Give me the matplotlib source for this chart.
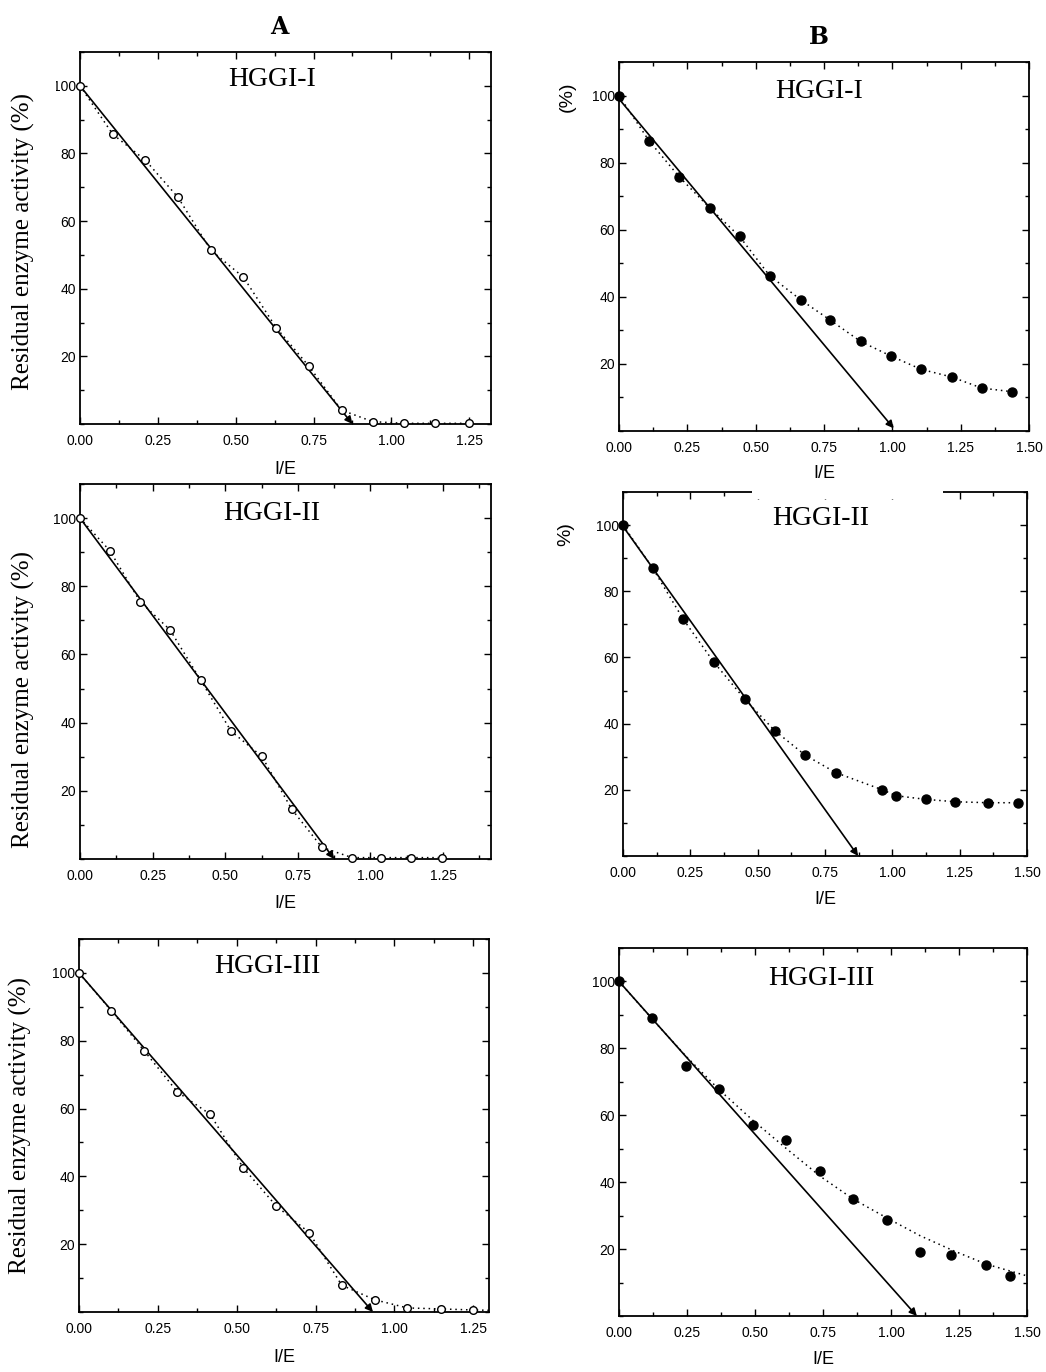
import matplotlib
matplotlib.use("Agg")
import matplotlib.pyplot as plt
from matplotlib.ticker import MultipleLocator, FormatStrFormatter, FixedLocator
from matplotlib.patches import Rectangle

# ---- data ----
# column A (open circles)
a1_x = [0, 0.105, 0.21, 0.315, 0.42, 0.525, 0.63, 0.735, 0.84, 0.94, 1.04, 1.14, 1.25]
a1_y = [100, 85.7, 78.0, 67.0, 51.4, 43.4, 28.5, 17.1, 4.1, 0.7, 0.2, 0.2, 0.2]
a1_line = ([0, 0.875], [100, 0])

a2_x = [0, 0.103, 0.207, 0.31, 0.416, 0.52, 0.626, 0.729, 0.833, 0.937, 1.037, 1.139, 1.248]
a2_y = [100, 90.4, 75.5, 67.2, 52.4, 37.5, 30.1, 14.6, 3.4, 0.4, 0.4, 0.4, 0.4]
a2_line = ([0, 0.875], [100, 0])

a3_x = [0, 0.103, 0.207, 0.312, 0.416, 0.521, 0.625, 0.73, 0.833, 0.938, 1.041, 1.147, 1.25]
a3_y = [100, 88.8, 77.0, 64.9, 58.3, 42.5, 31.3, 23.4, 7.9, 3.6, 1.2, 0.9, 0.6]
a3_line = ([0, 0.932], [100, 0])
a3_dot_x = a3_x + [1.3]
a3_dot_y = a3_y + [0.5]

# column B (filled circles)
b1_x = [0, 0.11, 0.221, 0.332, 0.441, 0.551, 0.665, 0.772, 0.884, 0.996, 1.105, 1.217, 1.327, 1.439]
b1_y = [100, 86.5, 75.7, 66.5, 58.0, 46.3, 39.1, 33.1, 26.7, 22.3, 18.4, 16.1, 12.8, 11.7]
b1_line = ([0, 1.005], [99, 0.8])

b2_x = [0, 0.111, 0.224, 0.337, 0.452, 0.563, 0.676, 0.79, 0.963, 1.015, 1.126, 1.233, 1.355, 1.465]
b2_y = [100, 86.9, 71.5, 58.6, 47.4, 37.9, 30.5, 25.2, 20.0, 18.2, 17.1, 16.4, 16.1, 16.1]
b2_line = ([0, 0.873], [99.6, 0])

b3_x = [0, 0.122, 0.247, 0.368, 0.492, 0.615, 0.739, 0.862, 0.986, 1.107, 1.22, 1.349, 1.439]
b3_y = [100, 89.2, 74.8, 67.8, 57.2, 52.6, 43.3, 35.1, 28.8, 19.2, 18.1, 15.1, 12.1]
b3_line = ([0, 1.095], [100, 0])
b3_dot_x = [0, 0.125, 0.248, 0.37, 0.492, 0.616, 0.739, 0.862, 0.985, 1.107, 1.23, 1.35, 1.5]
b3_dot_y = [100, 88.5, 77.5, 67.5, 58.5, 50.0, 41.8, 34.9, 29.3, 24.0, 19.5, 15.5, 12.0]

names = ["HGGI-I", "HGGI-II", "HGGI-III"]

W, H = 1046, 1372
fig = plt.figure(figsize=(W / 100, H / 100), dpi=100)

def rect(l, r, t, b):
    return [l / W, 1 - b / H, (r - l) / W, (b - t) / H]

panels = [
    # box in px (left, right, top, bottom), points, dotted curve, solid arrow line
    dict(box=(80, 491, 52, 424), x=a1_x, y=a1_y, dx=a1_x, dy=a1_y, ln=a1_line, xmax=1.32,
         name=names[0], npos=(0.467, 0.925), filled=False, xl=469),
    dict(box=(619, 1029, 62, 431), x=b1_x, y=b1_y, dx=b1_x, dy=b1_y, ln=b1_line, xmax=1.5,
         name=names[0], npos=(0.488, 0.92), filled=True, xl=474),
    dict(box=(80, 491, 484, 859), x=a2_x, y=a2_y, dx=a2_x, dy=a2_y, ln=a2_line, xmax=1.415,
         name=names[1], npos=(0.467, 0.92), filled=False, xl=903),
    dict(box=(623, 1027, 492, 856), x=b2_x, y=b2_y, dx=b2_x, dy=b2_y, ln=b2_line, xmax=1.5,
         name=names[1], npos=(0.49, 0.926), filled=True, xl=900),
    dict(box=(79, 489, 939, 1312), x=a3_x, y=a3_y, dx=a3_dot_x, dy=a3_dot_y, ln=a3_line, xmax=1.3,
         name=names[2], npos=(0.459, 0.925), filled=False, xl=1357),
    dict(box=(619, 1027, 948, 1316), x=b3_x, y=b3_y, dx=b3_dot_x, dy=b3_dot_y, ln=b3_line, xmax=1.5,
         name=names[2], npos=(0.495, 0.918), filled=True, xl=1360),
]

for p in panels:
    l, r, t, b = p["box"]
    ax = fig.add_axes(rect(l, r, t, b))
    ax.set_xlim(0, p["xmax"])
    ax.set_ylim(0, 110)

    ax.plot(p["dx"], p["dy"], color="k", ls=(0, (1, 2.5)), lw=1.1)
    ax.annotate("", xy=(p["ln"][0][1], p["ln"][1][1]), xytext=(p["ln"][0][0], p["ln"][1][0]),
                arrowprops=dict(arrowstyle="-|>", color="k", lw=1.2, mutation_scale=11,
                                shrinkA=0, shrinkB=0))
    if p["filled"]:
        ax.plot(p["x"], p["y"], "o", color="k", ms=6.5, clip_on=False, zorder=5)
    else:
        ax.plot(p["x"], p["y"], "o", mfc="white", mec="k", mew=1.0, ms=5.5, clip_on=False, zorder=5)

    ax.xaxis.set_major_locator(MultipleLocator(0.25))
    ax.xaxis.set_minor_locator(MultipleLocator(0.125))
    ax.xaxis.set_major_formatter(FormatStrFormatter("%.2f"))
    ax.yaxis.set_major_locator(FixedLocator([20, 40, 60, 80, 100]))
    ax.yaxis.set_minor_locator(MultipleLocator(10))
    ax.tick_params(which="both", direction="in", top=True, right=True, width=1.0)
    ax.tick_params(which="major", length=5)
    ax.tick_params(which="minor", length=3)
    for s in ax.spines.values():
        s.set_linewidth(1.3)
    for lab in ax.get_xticklabels() + ax.get_yticklabels():
        lab.set_family(["Liberation Sans", "DejaVu Sans"])
        lab.set_fontsize(10)
    ax.tick_params(axis="x", pad=7)
    ax.tick_params(axis="y", pad=3)

    ax.text(p["npos"][0], p["npos"][1], p["name"], transform=ax.transAxes, ha="center", va="center",
            family="Liberation Serif", fontsize=20)
    fig.text((l + r) / 2 / W, 1 - p["xl"] / H, "I/E", ha="center", va="center",
             family="Liberation Sans", fontsize=13)

# y axis titles of column A, their white box hides part of the tick labels
for cx, cy in [(23, 242), (23, 700), (20, 1125)]:
    fig.text(cx / W, 1 - cy / H, "Residual enzyme activity (%)", rotation=90, ha="center",
             va="center", family="Liberation Serif", fontsize=18,
             bbox=dict(boxstyle="square,pad=0.85", fc="white", ec="none"), zorder=10)

# left-over pieces of the column B titles
fig.text(567 / W, 1 - 97 / H, "(%)", rotation=90, ha="center", va="center",
         family="Liberation Sans", fontsize=14)
fig.text(566 / W, 1 - 534 / H, "%)", rotation=90, ha="center", va="center",
         family="Liberation Sans", fontsize=14)
fig.patches.append(Rectangle((752 / W, 1 - 499 / H), 191 / W, 12 / H, transform=fig.transFigure,
                             fc="white", ec="none", zorder=10))

fig.text(279 / W, 1 - 27 / H, "A", ha="center", va="center", family="DejaVu Serif",
         fontweight="bold", fontsize=17)
fig.text(819 / W, 1 - 37 / H, "B", ha="center", va="center", family="DejaVu Serif",
         fontweight="bold", fontsize=17)

fig.savefig("out.png", dpi=100)
